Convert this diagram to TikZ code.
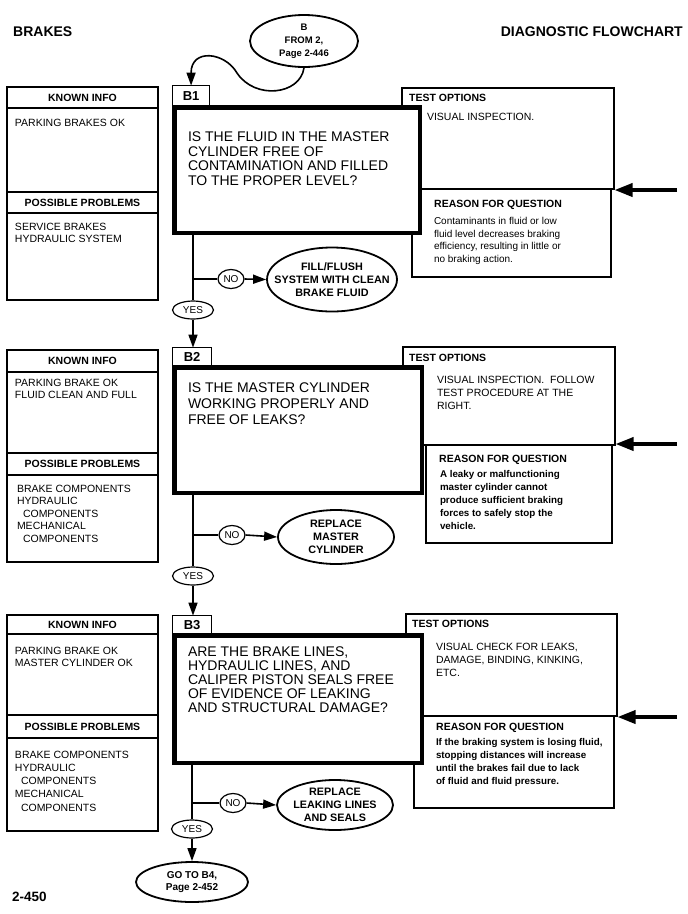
\documentclass[tikz,border=0pt]{standalone}
\usepackage{fontspec}
\setmainfont{Liberation Sans}
\usetikzlibrary{arrows.meta,shapes.geometric}
\newcommand\fz[2]{\fontsize{#1}{#2}\selectfont}
\begin{document}
\begin{tikzpicture}[x=1pt,y=-1pt,
  infobox/.style={draw, line width=1.1pt},
  tt/.style={inner sep=0pt, outer sep=0pt, anchor=north west, align=left},
  hdtext/.style={inner sep=0pt, font=\bfseries\fz{10.5}{12}},
  lbody/.style={tt, font=\fz{10.5}{12.5}},
  topt/.style={tt, font=\fz{10.5}{13.2}},
  rbody/.style={tt, font=\fz{10}{12.5}},
  rbodyb/.style={tt, font=\bfseries\fz{9.8}{13}},
  qtext/.style={tt, font=\fz{14}{14.5}},
  qbox/.style={draw, fill=white, line width=4.5pt, inner sep=0pt, outer sep=0pt, anchor=north west},
  lblbox/.style={draw, fill=white, line width=1.3pt, inner sep=0pt, outer sep=0pt, anchor=north west, font=\bfseries\fz{13}{13}},
  ovl/.style={draw, ellipse, fill=white, line width=1.8pt, inner sep=0pt},
  ovtext/.style={inner sep=0pt, align=center, font=\bfseries\fz{10.8}{13}},
  yn/.style={draw, ellipse, fill=white, line width=1.2pt, inner sep=0pt, font=\fz{10}{10}},
  conn/.style={line width=1.6pt},
  flowarrow/.style={line width=1.6pt, -{Triangle[length=13pt,width=9pt]}},
  bigarrow/.style={line width=3.6pt, -{Triangle[length=18pt,width=13pt]}}
]
\useasboundingbox (0,0) rectangle (688,914);
\fill[white] (0,0) rectangle (688,914);

% header
\node[anchor=west, inner sep=0pt, font=\bfseries\fz{14}{14}] (brk) at (13,32) {BRAKES};
\node[anchor=east, inner sep=0pt, font=\bfseries\fz{14}{14}] (dfc) at (683,32) {DIAGNOSTIC FLOWCHART};
\node[anchor=west, inner sep=0pt, font=\bfseries\fz{13.5}{13.5}] (pg) at (12,897) {2-450};

% start ellipse
\node[ovl, minimum width=108pt, minimum height=52pt] (st) at (304,41) {};
\node[ovtext, font=\bfseries\fz{9.5}{13}] (stt) at (st) {B\\FROM 2,\\Page 2-446};

%================ B1
\draw[infobox] (7,87) rectangle (158,300);
\draw[infobox] (7,108) -- (158,108) (7,192) -- (158,192) (7,213) -- (158,213);
\node[hdtext] (ki1) at (82.5,97.5) {KNOWN INFO};
\node[lbody] (ki1b) at (15,119) {PARKING BRAKES OK};
\node[hdtext] (pp1) at (82.5,202.5) {POSSIBLE PROBLEMS};
\node[lbody] (pp1b) at (15,223) {SERVICE BRAKES\\HYDRAULIC SYSTEM};

\draw[infobox] (402,88) rectangle (614,189);
\draw[infobox] (412,189) rectangle (611,277);
\node[hdtext, anchor=west] (to1) at (409,98) {TEST OPTIONS};
\node[topt] (to1b) at (427,113) {VISUAL INSPECTION.};
\node[hdtext, anchor=west] (rq1) at (434,205) {REASON FOR QUESTION};
\node[rbody] (rq1b) at (434,217.5) {Contaminants in fluid or low\\fluid level decreases braking\\efficiency, resulting in little or\\no braking action.};

\node[lblbox, minimum width=37pt, minimum height=21pt] (l1) at (172.6,85.6) {B1};
\node[qbox, minimum width=245.5pt, minimum height=125.5pt] (q1) at (174.25,107.25) {};
\node[qtext] (q1t) at (188,132) {IS THE FLUID IN THE MASTER\\CYLINDER FREE OF\\CONTAMINATION AND FILLED\\TO THE PROPER LEVEL?};

\coordinate (ra1) at (677,190);
\coordinate (ta1) at (614.5,190);
\draw[bigarrow] (ra1) -- (ta1);

\draw[flowarrow] (st.south) .. controls (300,95) and (255,100) .. (237,73) .. controls (225,52) and (191,48) .. (l1.north);

\node[yn, minimum width=41pt, minimum height=18pt] (y1) at (193,310) {YES};
\node[yn, minimum width=26pt, minimum height=19pt] (n1) at (231,279) {NO};
\node[ovl, minimum width=130pt, minimum height=64pt] (f1) at (332,279.5) {};
\node[ovtext] (f1t) at (f1) {FILL/FLUSH\\SYSTEM WITH CLEAN\\BRAKE FLUID};
\draw[conn] (q1.south -| y1.north) -- (y1.north);
\draw[conn] (y1.north |- n1.west) -- (n1.west);
\draw[flowarrow] (n1.east) -- (f1.west);

%================ B2
\draw[infobox] (7,350) rectangle (158,562);
\draw[infobox] (7,372) -- (158,372) (7,453) -- (158,453) (7,475) -- (158,475);
\node[hdtext] (ki2) at (82.5,361) {KNOWN INFO};
\node[lbody, font=\fz{10.5}{12}] (ki2b) at (15,379) {PARKING BRAKE OK\\FLUID CLEAN AND FULL};
\node[hdtext] (pp2) at (82.5,464) {POSSIBLE PROBLEMS};
\node[lbody] (pp2b) at (17,485) {BRAKE COMPONENTS\\HYDRAULIC\\\hspace*{6pt}COMPONENTS\\MECHANICAL\\\hspace*{6pt}COMPONENTS};

\draw[infobox] (403,347) rectangle (615,445);
\draw[infobox] (426,445) rectangle (612,543);
\node[hdtext, anchor=west] (to2) at (409,358) {TEST OPTIONS};
\node[topt] (to2b) at (437,376) {VISUAL INSPECTION.\ \ FOLLOW\\TEST PROCEDURE AT THE\\RIGHT.};
\node[hdtext, anchor=west] (rq2) at (439,460) {REASON FOR QUESTION};
\node[rbodyb] (rq2b) at (440,470.5) {A leaky or malfunctioning\\master cylinder cannot\\produce sufficient braking\\forces to safely stop the\\vehicle.};

\node[lblbox, minimum width=39pt, minimum height=19.5pt] (l2) at (172.6,347.6) {B2};
\node[qbox, minimum width=247.5pt, minimum height=125.5pt] (q2) at (174.25,367.25) {};
\node[qtext, font=\fz{14}{16}] (q2t) at (188,383) {IS THE MASTER CYLINDER\\WORKING PROPERLY AND\\FREE OF LEAKS?};

\coordinate (ra2) at (677,444);
\coordinate (ta2) at (615.5,444);
\draw[bigarrow] (ra2) -- (ta2);

\draw[flowarrow] (y1.south) -- (y1.south |- l2.north);

\node[yn, minimum width=41pt, minimum height=18pt] (y2) at (193,576) {YES};
\node[yn, minimum width=26pt, minimum height=19pt] (n2) at (232,535) {NO};
\node[ovl, minimum width=116pt, minimum height=54pt] (f2) at (336,537) {};
\node[ovtext] (f2t) at (f2) {REPLACE\\MASTER\\CYLINDER};
\draw[conn] (q2.south -| y2.north) -- (y2.north);
\draw[conn] (y2.north |- n2.west) -- (n2.west);
\draw[flowarrow] (n2.east) -- (f2.west);

%================ B3
\draw[infobox] (7,615) rectangle (158,831);
\draw[infobox] (7,634) -- (158,634) (7,715) -- (158,715) (7,738) -- (158,738);
\node[hdtext] (ki3) at (82.5,624.5) {KNOWN INFO};
\node[lbody, font=\fz{10.5}{12}] (ki3b) at (15,647.5) {PARKING BRAKE OK\\MASTER CYLINDER OK};
\node[hdtext] (pp3) at (82.5,726.5) {POSSIBLE PROBLEMS};
\node[lbody, font=\fz{10.5}{13.2}] (pp3b) at (15,751) {BRAKE COMPONENTS\\HYDRAULIC\\\hspace*{6pt}COMPONENTS\\MECHANICAL\\\hspace*{6pt}COMPONENTS};

\draw[infobox] (406,614) rectangle (617,716);
\draw[infobox] (414,716) rectangle (614,808);
\node[hdtext, anchor=west] (to3) at (412,624) {TEST OPTIONS};
\node[topt, font=\fz{10.5}{13}] (to3b) at (436,643) {VISUAL CHECK FOR LEAKS,\\DAMAGE, BINDING, KINKING,\\ETC.};
\node[hdtext, anchor=west] (rq3) at (436,728) {REASON FOR QUESTION};
\node[rbodyb] (rq3b) at (436,738.5) {If the braking system is losing fluid,\\stopping distances will increase\\until the brakes fail due to lack\\of fluid and fluid pressure.};

\node[lblbox, minimum width=39pt, minimum height=19.5pt] (l3) at (172.6,615.6) {B3};
\node[qbox, minimum width=247.5pt, minimum height=127.5pt] (q3) at (174.25,635.25) {};
\node[qtext, font=\fz{14}{14}] (q3t) at (188,647) {ARE THE BRAKE LINES,\\HYDRAULIC LINES, AND\\CALIPER PISTON SEALS FREE\\OF EVIDENCE OF LEAKING\\AND STRUCTURAL DAMAGE?};

\coordinate (ra3) at (677,717);
\coordinate (ta3) at (617.5,717);
\draw[bigarrow] (ra3) -- (ta3);

\draw[flowarrow] (y2.south) -- (y2.south |- l3.north);

\node[yn, minimum width=41pt, minimum height=18pt] (y3) at (192,829) {YES};
\node[yn, minimum width=26pt, minimum height=19pt] (n3) at (233,803) {NO};
\node[ovl, minimum width=116pt, minimum height=50pt] (f3) at (335,805) {};
\node[ovtext] (f3t) at (f3) {REPLACE\\LEAKING LINES\\AND SEALS};
\draw[conn] (q3.south -| y3.north) -- (y3.north);
\draw[conn] (y3.north |- n3.west) -- (n3.west);
\draw[flowarrow] (n3.east) -- (f3.west);

\node[ovl, minimum width=112pt, minimum height=40pt] (gt) at (192,882) {};
\node[ovtext, font=\bfseries\fz{10}{12.5}] (gtt) at (gt) {GO TO B4,\\Page 2-452};
\draw[flowarrow] (y3.south) -- (gt.north);
\end{tikzpicture}
\end{document}
